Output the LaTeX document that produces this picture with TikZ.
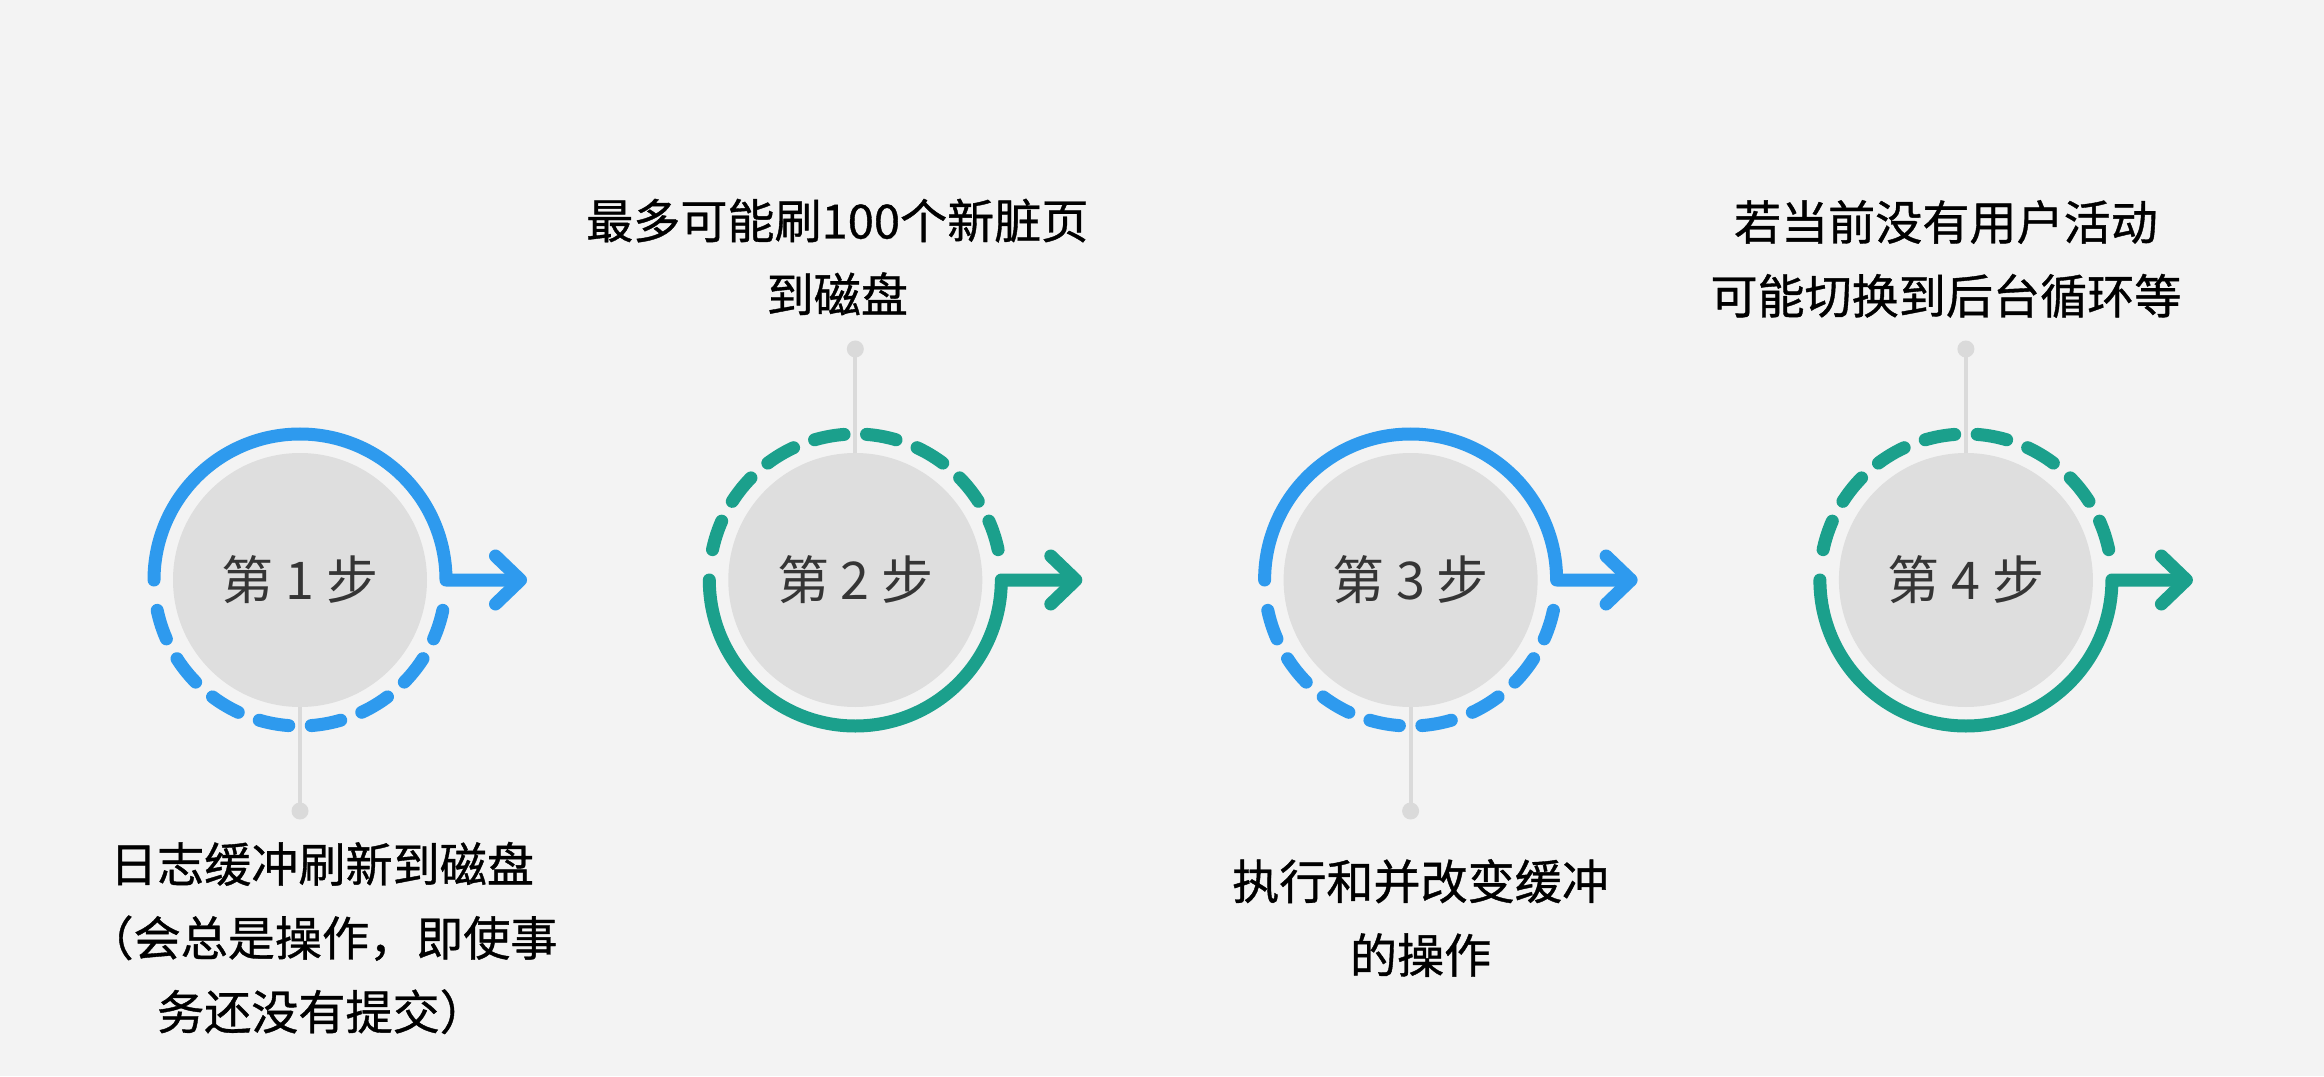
\documentclass[tikz,border=0pt]{standalone}
\usepackage{fontspec}
\setmainfont{Noto Sans CJK SC}
\newfontfamily\descfont{Noto Sans CJK SC}[FakeBold=0.8]
\usepackage{xcolor}
\usetikzlibrary{arrows.meta, positioning, calc}

\definecolor{bgc}{HTML}{F3F3F3}
\definecolor{diskc}{HTML}{DEDEDE}
\definecolor{stemc}{HTML}{DADADA}
\definecolor{bluec}{HTML}{2E9AEE}
\definecolor{tealc}{HTML}{1BA08C}
\definecolor{labelc}{HTML}{353535}

\begin{document}
\begin{tikzpicture}[
    font=\fontsize{14.8pt}{18pt}\selectfont,
    disk/.style     = {circle, fill=diskc, minimum size=2.54cm, inner sep=0pt, outer sep=0pt, text=labelc},
    dot/.style      = {circle, fill=stemc, minimum size=0.17cm, inner sep=0pt, outer sep=0pt},
    stem/.style     = {stemc, line width=0.04cm},
    ring/.style     = {line width=0.13cm, line cap=round, line join=round},
    dashring/.style = {ring, dash pattern=on 8.54pt off 6.40pt},
    tip/.style      = {ring, -{Straight Barb[length=2.5mm, width=4.8mm, round]}},
    desc/.style     = {align=center, font=\descfont\fontsize{13.4pt}{21pt}\selectfont, text=black},
    node distance=5.553cm, on grid,
]

% ---- background / page size ----
\fill[bgc] (0,0) rectangle (23.24,10.76);

% ---- the four steps ----
\node[disk] (s1) at (3.00,4.96) {第 1 步};
\node[disk] (s2) [right=of s1]  {第 2 步};
\node[disk] (s3) [right=of s2]  {第 3 步};
\node[disk] (s4) [right=of s3]  {第 4 步};

% ---- rings: solid half with arrow, dashed half ----
\draw[tip, bluec]      ([shift={(180:1.46)}]s1.center) arc[start angle=180, end angle=0, radius=1.46] -- ([shift={(2.27,0)}]s1.center);
\draw[dashring, bluec] ([shift={(192:1.46)}]s1.center) arc[start angle=192, end angle=348, radius=1.46];

\draw[tip, tealc]      ([shift={(180:1.46)}]s2.center) arc[start angle=180, end angle=360, radius=1.46] -- ([shift={(2.27,0)}]s2.center);
\draw[dashring, tealc] ([shift={(12:1.46)}]s2.center) arc[start angle=12, end angle=168, radius=1.46];

\draw[tip, bluec]      ([shift={(180:1.46)}]s3.center) arc[start angle=180, end angle=0, radius=1.46] -- ([shift={(2.27,0)}]s3.center);
\draw[dashring, bluec] ([shift={(192:1.46)}]s3.center) arc[start angle=192, end angle=348, radius=1.46];

\draw[tip, tealc]      ([shift={(180:1.46)}]s4.center) arc[start angle=180, end angle=360, radius=1.46] -- ([shift={(2.27,0)}]s4.center);
\draw[dashring, tealc] ([shift={(12:1.46)}]s4.center) arc[start angle=12, end angle=168, radius=1.46];

% ---- stems and dots ----
\node[dot] (d1) [below=2.31cm of s1] {};
\node[dot] (d2) [above=2.31cm of s2] {};
\node[dot] (d3) [below=2.31cm of s3] {};
\node[dot] (d4) [above=2.31cm of s4] {};
\draw[stem] (s1.south) -- (d1);
\draw[stem] (s2.north) -- (d2);
\draw[stem] (s3.south) -- (d3);
\draw[stem] (s4.north) -- (d4);

% ---- descriptions ----
\node[desc] (t1) [below=1.27cm of d1, xshift=2.2mm]  {日志缓冲刷新到磁盘\\（会总是操作，即使事\\务还没有提交）};
\node[desc] (t2) [above=0.92cm of d2, xshift=-1.8mm] {最多可能刷100个新脏页\\到磁盘};
\node[desc] (t3) [below=1.07cm of d3, xshift=1mm]    {执行和并改变缓冲\\的操作};
\node[desc] (t4) [above=0.90cm of d4, xshift=-2mm]   {若当前没有用户活动\\可能切换到后台循环等};

\end{tikzpicture}
\end{document}
